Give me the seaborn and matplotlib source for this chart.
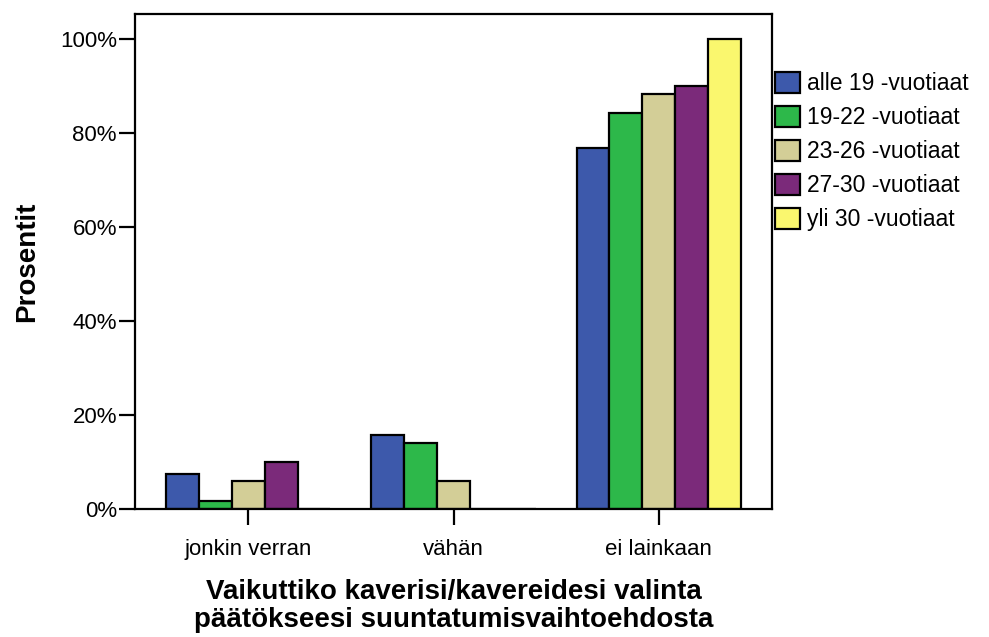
import matplotlib
matplotlib.use("Agg")
import matplotlib.pyplot as plt
import pandas as pd
import seaborn as sns
from matplotlib.ticker import PercentFormatter

# ── Data ─────────────────────────────────────────────────────────────────────
categories = ["jonkin verran", "vähän", "ei lainkaan"]
groups = ["alle 19 -vuotiaat", "19-22 -vuotiaat", "23-26 -vuotiaat",
          "27-30 -vuotiaat", "yli 30 -vuotiaat"]
alle19 = [7.4, 15.7, 76.9]
v19_22 = [1.8, 14.0, 84.2]
v23_26 = [5.9, 5.9, 88.2]
v27_30 = [10.0, 0.0, 90.0]
yli30 = [0.0, 0.0, 100.0]
colors = ["#3D59AB", "#2DB84A", "#D3CE97", "#7B2A7A", "#FAF76E"]

series = [alle19, v19_22, v23_26, v27_30, yli30]
df = pd.DataFrame({
    "kategoria": [c for _ in groups for c in categories],
    "ryhma": [g for g in groups for _ in categories],
    "prosentti": [v for s in series for v in s],
})

# ── Plot ─────────────────────────────────────────────────────────────────────
sns.set_style("white")
plt.rcParams["font.family"] = ["Liberation Sans", "DejaVu Sans"]
plt.rcParams["text.color"] = "black"
plt.rcParams["axes.labelcolor"] = "black"

fig = plt.figure(figsize=(9.89, 6.37), dpi=100)
# frame: x 135..772 px, y 14..509 px
ax = fig.add_axes([135 / 989, 1 - 509 / 637, 637 / 989, 495 / 637])

sns.barplot(data=df, x="kategoria", y="prosentti", hue="ryhma",
            order=categories, hue_order=groups, palette=colors,
            saturation=1, width=0.8, edgecolor="black", linewidth=1.6,
            ax=ax)

ax.set_xlim(-0.553, 2.553)
ax.set_ylim(0, 105.3)
ax.set_yticks([0, 20, 40, 60, 80, 100])
ax.yaxis.set_major_formatter(PercentFormatter(decimals=0))

for s in ax.spines.values():
    s.set_visible(True)
    s.set_color("black")
    s.set_linewidth(1.6)

ax.tick_params(axis="both", which="major", direction="out", length=11.5,
               width=1.6, color="black", labelsize=16, labelcolor="black",
               bottom=True, left=True)
ax.tick_params(axis="y", pad=1.5)
ax.tick_params(axis="x", pad=10)

ax.set_ylabel("Prosentit", fontsize=20, fontweight="bold", labelpad=14)
ax.set_xlabel("Vaikuttiko kaverisi/kavereidesi valinta\n"
              "päätökseesi suuntatumisvaihtoehdosta",
              fontsize=20, fontweight="bold", labelpad=14, linespacing=1.08)

handles, labels = ax.get_legend_handles_labels()
ax.legend(handles, labels, loc="upper left", bbox_to_anchor=(1.005, 0.883),
          frameon=False, fontsize=16.5, handlelength=1.09, handleheight=1.05,
          handletextpad=0.3, labelspacing=0.46, borderaxespad=0, borderpad=0,
          title=None)

plt.savefig("out.png", dpi=100)
plt.close()
